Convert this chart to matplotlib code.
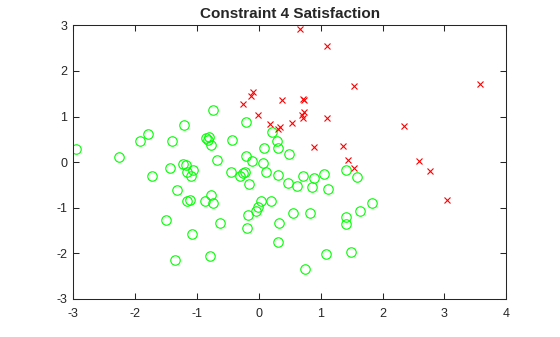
import matplotlib
matplotlib.use("Agg")
import matplotlib.pyplot as plt

plt.rcParams['font.family'] = ['Liberation Sans', 'DejaVu Sans']
plt.rcParams['axes.unicode_minus'] = False

# Satisfied points (green circles)
sat_x = [-2.956, -2.27, -1.93, -1.80, -1.40, -1.206, -0.855, -0.80, -0.822, -0.77,
         -0.747, -0.43, -0.203, 0.217, 0.298, 0.314, 0.088, -0.208, -0.106, -0.672,
         0.49, 0.066, 1.408, -1.723, -1.432, -1.232, -1.183, -1.167, -1.06, -1.092,
         -1.319, -1.162, -1.118, -1.497, -1.076, -1.351, -0.785, -0.871, -0.77, -0.747,
         -0.624, -0.446, -0.30, -0.252, -0.22, -0.165, 0.11, 0.314, 0.476, -0.181,
         -0.192, -0.047, -0.02, 0.04, 0.2, 0.33, 0.314, 0.621, 0.718, 0.896,
         0.864, 1.048, 1.117, 1.591, 1.834, 1.64, 1.413, 1.413, 1.494, 1.09,
         0.75, 0.556, 0.826]
sat_y = [0.283, 0.107, 0.458, 0.625, 0.465, 0.823, 0.524, 0.546, 0.493, 0.384,
         1.138, 0.48, 0.875, 0.662, 0.458, 0.305, 0.311, 0.13, 0.02, 0.042,
         0.173, -0.025, -0.17, -0.31, -0.134, -0.046, -0.068, -0.208, -0.171, -0.295,
         -0.617, -0.844, -0.822, -1.275, -1.58, -2.15, -2.064, -0.844, -0.72, -0.888,
         -1.34, -0.222, -0.295, -0.244, -0.215, -0.485, -0.222, -0.28, -0.456, -1.158,
         -1.45, -1.077, -0.99, -0.858, -0.858, -1.34, -1.757, -0.529, -0.31, -0.353,
         -0.544, -0.265, -0.595, -0.331, -0.902, -1.077, -1.208, -1.362, -1.976, -2.02,
         -2.35, -1.12, -1.12]

# Violating points (red crosses)
vio_x = [0.67, 1.106, 1.543, 3.58, -0.252, -0.127, -0.09, 0.374, 0.712, 0.722,
         -0.009, 0.725, 0.697, 0.718, 1.106, 0.185, 0.314, 0.342, 0.535, 2.346,
         0.896, 1.365, 1.44, 1.543, 2.588, 2.77, 3.046]
vio_y = [2.92, 2.548, 1.67, 1.715, 1.276, 1.458, 1.54, 1.364, 1.375, 1.36,
         1.035, 1.10, 1.035, 0.962, 0.969, 0.831, 0.728, 0.765, 0.86, 0.794,
         0.333, 0.355, 0.048, -0.125, 0.02, -0.19, -0.829]

x_ticks = [-3, -2, -1, 0, 1, 2, 3, 4]
y_ticks = [-3, -2, -1, 0, 1, 2, 3]
title = "Constraint 4 Satisfaction"

fig = plt.figure(figsize=(5.6, 3.37), dpi=100)
ax = fig.add_axes([0.131, 0.1128, 0.773, 0.8122])

ax.plot(sat_x, sat_y, linestyle='none', marker='o', markersize=6.8,
        markerfacecolor='none', markeredgecolor='#00ff00', markeredgewidth=0.8)
ax.plot(vio_x, vio_y, linestyle='none', marker='x', markersize=5,
        color='#ff0000', markeredgewidth=0.8)

ax.set_xlim(-3, 4)
ax.set_ylim(-3, 3)
ax.set_xticks(x_ticks)
ax.set_yticks(y_ticks)
ax.tick_params(direction='in', length=4, width=0.75, labelsize=9,
               top=True, right=True, colors='#262626')
ax.tick_params(axis='x', pad=6.5)
ax.tick_params(axis='y', pad=4.5)
for s in ax.spines.values():
    s.set_linewidth(0.75)
    s.set_color('#262626')
ax.set_title(title, fontsize=11, fontweight='bold', color='#262626', pad=5)

fig.savefig('out.png', dpi=100)
